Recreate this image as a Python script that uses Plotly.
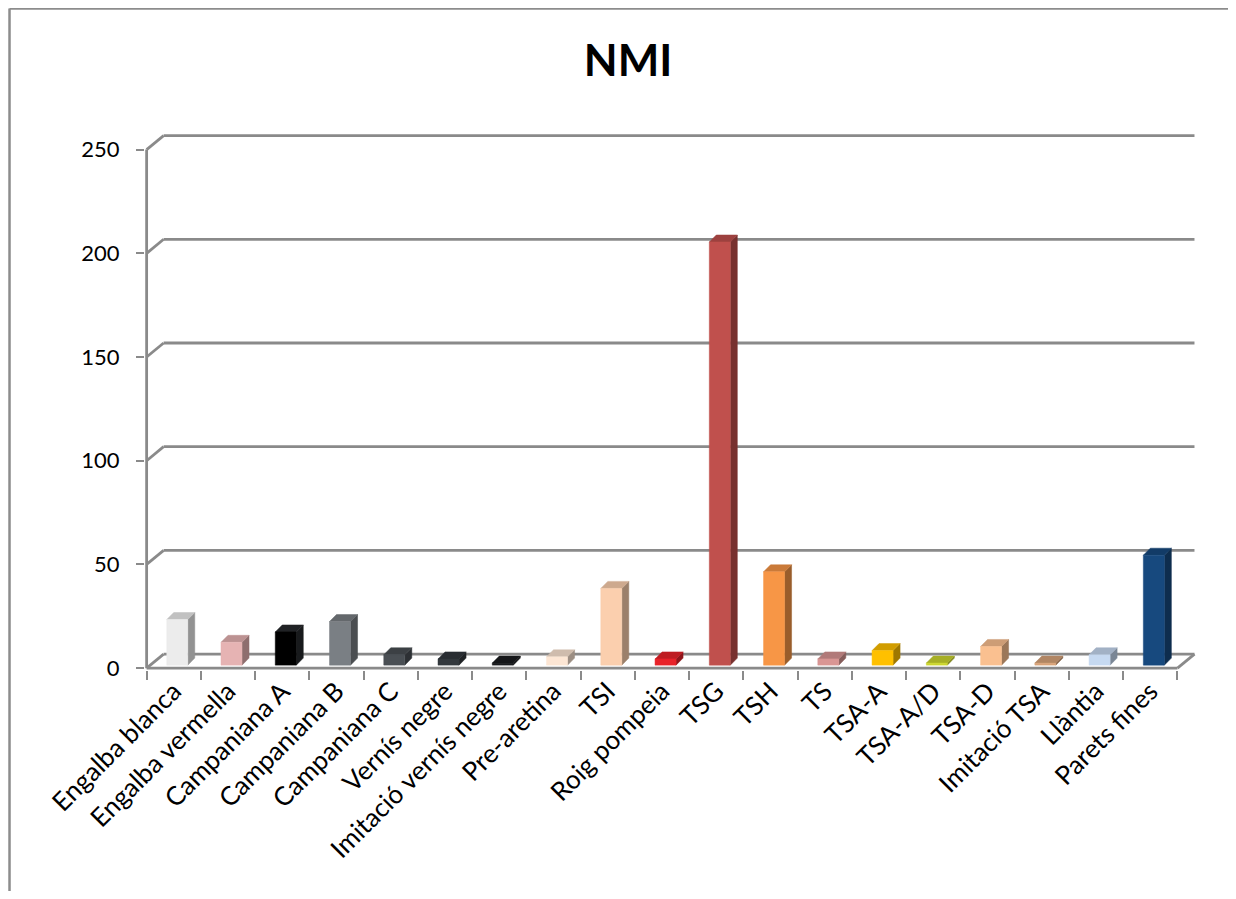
import plotly.graph_objects as go

categories = ["Engalba blanca", "Engalba vermella", "Campaniana A", "Campaniana B",
              "Campaniana C", "Vernís negre", "Imitació vernís negre", "Pre-aretina",
              "TSI", "Roig pompeia", "TSG", "TSH", "TS", "TSA-A", "TSA-A/D", "TSA-D",
              "Imitació TSA", "Llàntia", "Parets fines"]
values = [22, 11, 16, 21, 5, 3, 1, 4, 37, 3, 204, 45, 3, 7, 1, 9, 1, 5, 53]
colors = ["#ECECEC", "#E6B3B3", "#000000", "#7A7F84", "#4A4F54", "#33383D", "#1A1C1F",
          "#FDE6D4", "#FBCFAE", "#E8232A", "#C0504D", "#F79646", "#D99694", "#FFC000",
          "#CCD62F", "#FAC090", "#D9A47A", "#C6D9F1", "#17497E"]
y_ticks = [0, 50, 100, 150, 200, 250]

OFF = 8  # page body margin
W, H = 1236 - 2 * OFF, 899 - 2 * OFF
PX_CAT = 1030 / 19.0
PX_UNIT = 518 / 250.0
X0, X1 = -0.53, 18.86
Y0, Y1 = -0.9, 258.0
AX_LEFT = 147 - OFF
AX_ZERO = 668 - OFF
L = AX_LEFT + (X0 + 0.5) * PX_CAT
PW = (X1 - X0) * PX_CAT
R = W - L - PW
BOT = AX_ZERO + (0 - Y0) * PX_UNIT
PH = (Y1 - Y0) * PX_UNIT
B = H - BOT
T = BOT - PH

# depth geometry (in data units)
WALL_DX = 17 / PX_CAT
WALL_DY = 14 / PX_UNIT
BAR_W = 21 / PX_CAT
BAR_SHIFT = 3.5 / PX_CAT
BAR_DX = 7 / PX_CAT
BAR_DY = 7 / PX_UNIT
BAR_BASE = 3 / PX_UNIT


def shade(hex_color, f):
    h = hex_color.lstrip("#")
    r, g, b = (int(h[i:i + 2], 16) for i in (0, 2, 4))
    if r + g + b < 60:
        r, g, b = 40, 42, 46
    return "rgb(%d,%d,%d)" % (int(r * f), int(g * f), int(b * f))


fig = go.Figure()
for i, (cat, v, c) in enumerate(zip(categories, values, colors)):
    xl = i - BAR_W / 2 + BAR_SHIFT
    xr = i + BAR_W / 2 + BAR_SHIFT
    yb = BAR_BASE
    yt = BAR_BASE + v
    fig.add_trace(go.Scatter(
        x=[xr, xr + BAR_DX, xr + BAR_DX, xr, xr],
        y=[yb, yb + BAR_DY, yt + BAR_DY, yt, yb],
        fill="toself", fillcolor=shade(c, 0.62), mode="lines",
        line=dict(width=0.5, color=shade(c, 0.62)), hoverinfo="skip", showlegend=False))
    fig.add_trace(go.Scatter(
        x=[xl, xr, xr + BAR_DX, xl + BAR_DX, xl],
        y=[yt, yt, yt + BAR_DY, yt + BAR_DY, yt],
        fill="toself", fillcolor=shade(c, 0.82), mode="lines",
        line=dict(width=0.5, color=shade(c, 0.82)), hoverinfo="skip", showlegend=False))
    fig.add_trace(go.Scatter(
        x=[xl, xr, xr, xl, xl],
        y=[yb, yb, yt, yt, yb],
        fill="toself", fillcolor=c, mode="lines",
        line=dict(width=0.5, color=c), name=cat,
        text=[f"{cat}: {v}"] * 5, hoverinfo="text", showlegend=False))

GRID = "#8a8a8a"
shapes = []
n = len(categories)
for t in y_ticks:
    shapes.append(dict(type="line", xref="x", yref="y", x0=-0.5, y0=t,
                       x1=-0.5 + WALL_DX, y1=t + WALL_DY, line=dict(color=GRID, width=2.8), layer="below"))
    shapes.append(dict(type="line", xref="x", yref="y", x0=-0.5 + WALL_DX, y0=t + WALL_DY,
                       x1=n - 0.5 + WALL_DX, y1=t + WALL_DY, line=dict(color=GRID, width=2.8), layer="below"))
shapes.append(dict(type="line", xref="x", yref="y", x0=-0.5, y0=0, x1=n - 0.5, y1=0,
                   line=dict(color=GRID, width=2.8)))
shapes.append(dict(type="line", xref="x", yref="y", x0=n - 0.5, y0=0, x1=n - 0.5 + WALL_DX, y1=WALL_DY,
                   line=dict(color=GRID, width=2.8)))
shapes.append(dict(type="line", xref="x", yref="y", x0=-0.5, y0=0, x1=-0.5, y1=250,
                   line=dict(color=GRID, width=2.8)))


def px2x(px):
    return (px - OFF - L) / PW


def px2y(py):
    return (BOT - (py - OFF)) / PH


# outer chart border: left and top edges only (right/bottom fall outside the picture)
shapes.append(dict(type="line", xref="paper", yref="paper",
                   x0=px2x(10), y0=px2y(905), x1=px2x(10), y1=px2y(9),
                   line=dict(color="#8c8c8c", width=2.5)))
shapes.append(dict(type="line", xref="paper", yref="paper",
                   x0=px2x(10), y0=px2y(9), x1=px2x(1236), y1=px2y(9),
                   line=dict(color="#8c8c8c", width=2.5)))

FONT = "Lato, Open Sans, sans-serif"
fig.update_layout(
    width=W, height=H,
    margin=dict(l=L, r=R, t=T, b=B, autoexpand=False),
    paper_bgcolor="white", plot_bgcolor="white",
    shapes=shapes,
    title=dict(text="<b>NMI</b>", x=(628 - OFF) / W, xref="container", xanchor="center",
               y=1 - (61 - OFF) / H, yref="container", yanchor="middle",
               font=dict(family=FONT, size=44, color="#000000")),
    font=dict(family=FONT, color="#000000"),
    xaxis=dict(range=[X0, X1], tickmode="array", tickvals=list(range(n)), ticktext=categories,
               tickangle=-45, ticks="", showgrid=False, zeroline=False, showline=False,
               tickfont=dict(size=26, family=FONT, color="#000000"),
               minor=dict(tickmode="array", tickvals=[i - 0.5 for i in range(n + 1)],
                          ticks="outside", ticklen=9, tickwidth=2, tickcolor=GRID)),
    yaxis=dict(range=[Y0, Y1], tickmode="array", tickvals=y_ticks, ticks="outside",
               ticklen=8, tickwidth=2, tickcolor=GRID, showgrid=False, zeroline=False,
               showline=False, ticklabelstandoff=12,
               tickfont=dict(size=22, family=FONT, color="#000000")),
)

fig.write_html("out.html")
